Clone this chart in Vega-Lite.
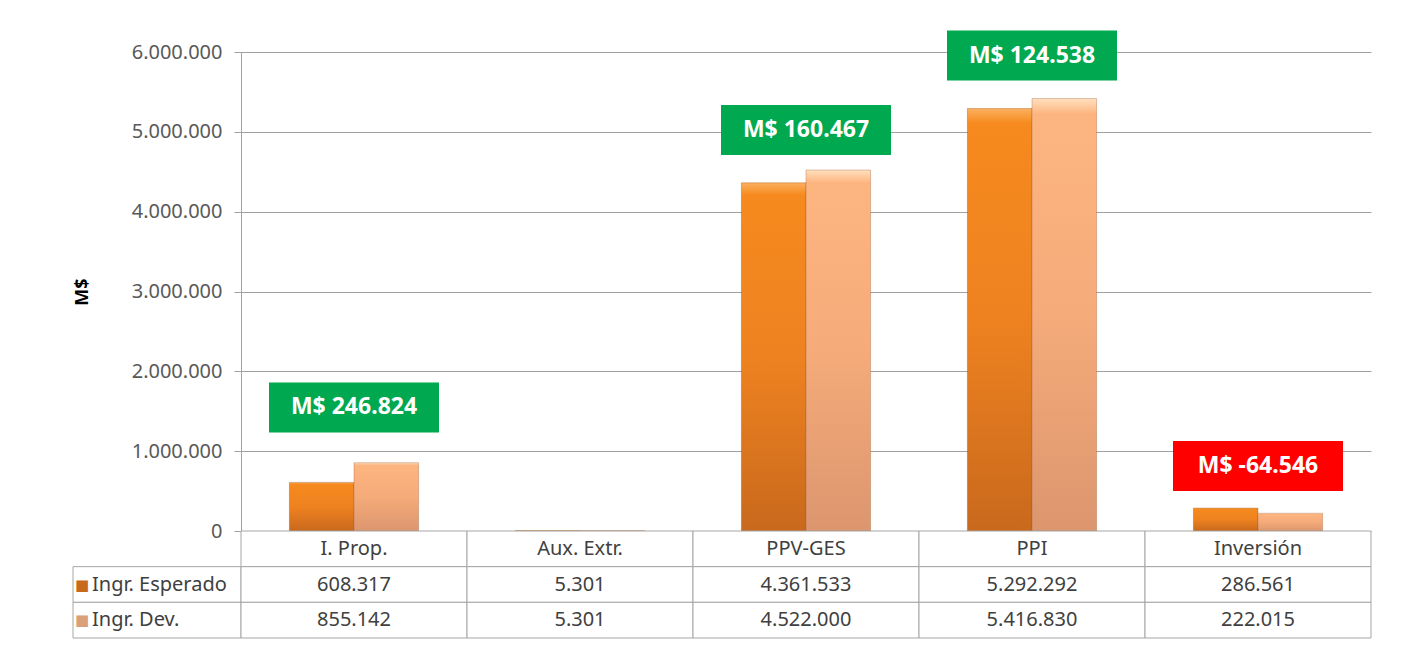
{
  "$schema": "https://vega.github.io/schema/vega-lite/v6.json",
  "background": "white",
  "padding": {"left": 72, "top": 30, "right": 5, "bottom": 5},
  "config": {
    "locale": {"number": {"decimal": ",", "thousands": ".", "grouping": [3], "currency": ["$", ""]}},
    "view": {"stroke": null},
    "font": "Noto Sans"
  },
  "datasets": {
    "vals": [
      {"cat": "I. Prop.", "serie": "Ingr. Esperado", "value": 608317},
      {"cat": "I. Prop.", "serie": "Ingr. Dev.", "value": 855142},
      {"cat": "Aux. Extr.", "serie": "Ingr. Esperado", "value": 5301},
      {"cat": "Aux. Extr.", "serie": "Ingr. Dev.", "value": 5301},
      {"cat": "PPV-GES", "serie": "Ingr. Esperado", "value": 4361533},
      {"cat": "PPV-GES", "serie": "Ingr. Dev.", "value": 4522000},
      {"cat": "PPI", "serie": "Ingr. Esperado", "value": 5292292},
      {"cat": "PPI", "serie": "Ingr. Dev.", "value": 5416830},
      {"cat": "Inversión", "serie": "Ingr. Esperado", "value": 286561},
      {"cat": "Inversión", "serie": "Ingr. Dev.", "value": 222015}
    ],
    "labels": [
      {"cat": "I. Prop.", "label": "M$ 246.824", "diff": 246824, "labelY": 1547000},
      {"cat": "PPV-GES", "label": "M$ 160.467", "diff": 160467, "labelY": 5023000},
      {"cat": "PPI", "label": "M$ 124.538", "diff": 124538, "labelY": 5956000},
      {"cat": "Inversión", "label": "M$ -64.546", "diff": -64546, "labelY": 814000}
    ],
    "header": [
      {"cat": "I. Prop."},
      {"cat": "Aux. Extr."},
      {"cat": "PPV-GES"},
      {"cat": "PPI"},
      {"cat": "Inversión"}
    ],
    "series": [
      {"serie": "Ingr. Esperado"},
      {"serie": "Ingr. Dev."}
    ]
  },
  "spacing": 0,
  "bounds": "flush",
  "columns": 2,
  "resolve": {"scale": {"x": "independent", "y": "independent"}},
  "concat": [
    {
      "width": 168,
      "height": 479,
      "data": {"values": []},
      "mark": {"type": "point", "opacity": 0},
      "encoding": {}
    },
    {
      "width": 1130,
      "height": 479,
      "data": {"name": "vals"},
      "encoding": {
        "x": {
          "field": "cat",
          "type": "nominal",
          "scale": {"domain": ["I. Prop.", "Aux. Extr.", "PPV-GES", "PPI", "Inversión"], "paddingInner": 0, "paddingOuter": 0},
          "axis": null
        }
      },
      "layer": [
        {
          "transform": [{"filter": "datum.serie === 'Ingr. Esperado'"}],
          "mark": {
            "type": "bar",
            "color": {
              "gradient": "linear", "x1": 0, "y1": 0, "x2": 0, "y2": 1,
              "stops": [
                {"offset": 0, "color": "#FBB060"},
                {"offset": 0.035, "color": "#F68A1E"},
                {"offset": 0.5, "color": "#EE8220"},
                {"offset": 1, "color": "#C9691D"}
              ]
            },
            "stroke": "#9A4E12",
            "strokeWidth": 0.8,
            "strokeOpacity": 0.45
          },
          "encoding": {
            "xOffset": {
              "field": "serie", "type": "nominal",
              "scale": {"domain": ["Ingr. Esperado", "Ingr. Dev."], "paddingInner": 0, "paddingOuter": 0.75}
            },
            "y": {
              "field": "value",
              "type": "quantitative",
              "scale": {"domain": [0, 6000000], "nice": false},
              "axis": {
                "title": "M$",
                "values": [0, 1000000, 2000000, 3000000, 4000000, 5000000, 6000000],
                "format": ",d",
                "labelFont": "Noto Sans",
                "labelFontSize": 20,
                "labelColor": "#595959",
                "labelPadding": 12,
                "tickSize": 7,
                "tickColor": "#A0A0A0",
                "domainColor": "#A0A0A0",
                "gridColor": "#A0A0A0",
                "grid": true,
                "titleFont": "Noto Sans",
                "titleFontSize": 18,
                "titleFontWeight": "bold",
                "titleColor": "#000000",
                "titlePadding": 40
              }
            }
          }
        },
        {
          "transform": [{"filter": "datum.serie === 'Ingr. Dev.'"}],
          "mark": {
            "type": "bar",
            "color": {
              "gradient": "linear", "x1": 0, "y1": 0, "x2": 0, "y2": 1,
              "stops": [
                {"offset": 0, "color": "#FFE0BE"},
                {"offset": 0.035, "color": "#FDB580"},
                {"offset": 0.5, "color": "#F5AB7A"},
                {"offset": 1, "color": "#DC966E"}
              ]
            },
            "stroke": "#A0603A",
            "strokeWidth": 0.8,
            "strokeOpacity": 0.45
          },
          "encoding": {
            "xOffset": {"field": "serie", "type": "nominal"},
            "y": {"field": "value", "type": "quantitative"}
          }
        },
        {
          "data": {"name": "labels"},
          "mark": {
            "type": "point",
            "shape": "M-1,-0.294L1,-0.294L1,0.294L-1,0.294Z",
            "size": 28900,
            "filled": true,
            "opacity": 1,
            "strokeWidth": 0
          },
          "encoding": {
            "y": {"field": "labelY", "type": "quantitative"},
            "color": {"condition": {"test": "datum.diff < 0", "value": "#FF0000"}, "value": "#00A94F"}
          }
        },
        {
          "data": {"name": "labels"},
          "mark": {"type": "text", "font": "Noto Sans", "fontWeight": "bold", "fontSize": 23, "color": "#FFFFFF", "baseline": "middle"},
          "encoding": {
            "y": {"field": "labelY", "type": "quantitative"},
            "text": {"field": "label"}
          }
        }
      ]
    },
    {
      "width": 168,
      "height": 107,
      "data": {"name": "series"},
      "encoding": {
        "x": {"datum": "legend", "type": "nominal", "scale": {"paddingInner": 0, "paddingOuter": 0}, "axis": null},
        "y": {
          "field": "serie", "type": "nominal",
          "scale": {"domain": ["header", "Ingr. Esperado", "Ingr. Dev."], "paddingInner": 0, "paddingOuter": 0},
          "axis": null
        }
      },
      "layer": [
        {
          "mark": {"type": "rect", "fill": "#FFFFFF", "stroke": "#A6A6A6", "strokeWidth": 1}
        },
        {
          "mark": {"type": "text", "text": "■", "align": "left", "baseline": "middle", "dx": 2, "fontSize": 15, "font": "DejaVu Sans"},
          "encoding": {
            "x": {"datum": "legend", "type": "nominal", "bandPosition": 0},
            "color": {
              "field": "serie", "type": "nominal",
              "scale": {"domain": ["Ingr. Esperado", "Ingr. Dev."], "range": ["#C86A1E", "#D9A07A"]},
              "legend": null
            }
          }
        },
        {
          "mark": {"type": "text", "align": "left", "baseline": "middle", "dx": 19, "fontSize": 20, "font": "Noto Sans", "color": "#404040"},
          "encoding": {
            "x": {"datum": "legend", "type": "nominal", "bandPosition": 0},
            "text": {"field": "serie"}
          }
        }
      ]
    },
    {
      "width": 1130,
      "height": 107,
      "encoding": {
        "x": {
          "field": "cat", "type": "nominal",
          "scale": {"domain": ["I. Prop.", "Aux. Extr.", "PPV-GES", "PPI", "Inversión"], "paddingInner": 0, "paddingOuter": 0},
          "axis": null
        }
      },
      "layer": [
        {
          "data": {"name": "header"},
          "mark": {"type": "rect", "fill": "#FFFFFF", "stroke": "#A6A6A6", "strokeWidth": 1},
          "encoding": {
            "y": {
              "datum": "header", "type": "nominal",
              "scale": {"domain": ["header", "Ingr. Esperado", "Ingr. Dev."], "paddingInner": 0, "paddingOuter": 0},
              "axis": null
            }
          }
        },
        {
          "data": {"name": "header"},
          "mark": {"type": "text", "baseline": "middle", "fontSize": 20, "font": "Noto Sans", "color": "#404040"},
          "encoding": {
            "y": {"datum": "header", "type": "nominal"},
            "text": {"field": "cat"}
          }
        },
        {
          "data": {"name": "vals"},
          "mark": {"type": "rect", "fill": "#FFFFFF", "stroke": "#A6A6A6", "strokeWidth": 1},
          "encoding": {
            "y": {"field": "serie", "type": "nominal"}
          }
        },
        {
          "data": {"name": "vals"},
          "mark": {"type": "text", "baseline": "middle", "fontSize": 20, "font": "Noto Sans", "color": "#404040"},
          "encoding": {
            "y": {"field": "serie", "type": "nominal"},
            "text": {"field": "value", "type": "quantitative", "format": ",d"}
          }
        }
      ]
    }
  ]
}
